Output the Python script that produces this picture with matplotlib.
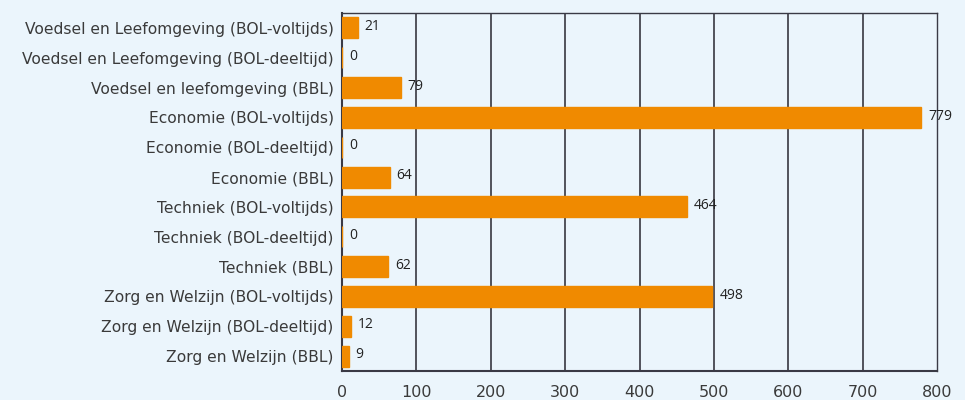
import matplotlib
matplotlib.use("Agg")
import matplotlib.pyplot as plt

categories = [
    "Voedsel en Leefomgeving (BOL-voltijds)",
    "Voedsel en Leefomgeving (BOL-deeltijd)",
    "Voedsel en leefomgeving (BBL)",
    "Economie (BOL-voltijds)",
    "Economie (BOL-deeltijd)",
    "Economie (BBL)",
    "Techniek (BOL-voltijds)",
    "Techniek (BOL-deeltijd)",
    "Techniek (BBL)",
    "Zorg en Welzijn (BOL-voltijds)",
    "Zorg en Welzijn (BOL-deeltijd)",
    "Zorg en Welzijn (BBL)",
]
values = [21, 0, 79, 779, 0, 64, 464, 0, 62, 498, 12, 9]
xticks = [0, 100, 200, 300, 400, 500, 600, 700, 800]

bg = "#ebf5fc"
bar_color = "#f08a00"
text_color = "#3a3a3a"

plt.rcParams["font.family"] = ["DejaVu Sans"]

fig = plt.figure(figsize=(9.65, 4.0), dpi=100, facecolor=bg)
ax = fig.add_axes([342 / 965, 1 - 371 / 400, (937 - 342) / 965, (371 - 13) / 400])
ax.set_facecolor(bg)

y = list(range(len(categories)))
ax.barh(y, values, height=0.7, color=bar_color, edgecolor=bar_color,
        linewidth=1.0, zorder=3)
ax.set_ylim(len(categories) - 0.5, -0.5)
ax.set_xlim(0, 800)
ax.set_xticks(xticks)
ax.set_xticklabels([str(t) for t in xticks])
ax.set_yticks(y)
ax.set_yticklabels(categories)

for t in xticks[1:-1]:
    ax.axvline(t, color="#45454f", linewidth=1.3, zorder=2)

for yi, v in zip(y, values):
    ax.annotate(str(v), xy=(v, yi), xytext=(5, 1), textcoords="offset points",
                va="center", ha="left", fontsize=10, color="#222222",
                family=["Open Sans", "DejaVu Sans"],
                annotation_clip=False, zorder=4)

for s in ["left", "bottom"]:
    ax.spines[s].set_color("#3a3a45")
    ax.spines[s].set_linewidth(1.5)
for s in ["top", "right"]:
    ax.spines[s].set_color("#3a3a45")
    ax.spines[s].set_linewidth(1.0)

ax.tick_params(axis="both", length=0, labelcolor=text_color)
ax.tick_params(axis="y", labelsize=11.2, pad=6)
ax.tick_params(axis="x", labelsize=11.5, pad=10)

fig.savefig("out.png", dpi=100, facecolor=bg)
